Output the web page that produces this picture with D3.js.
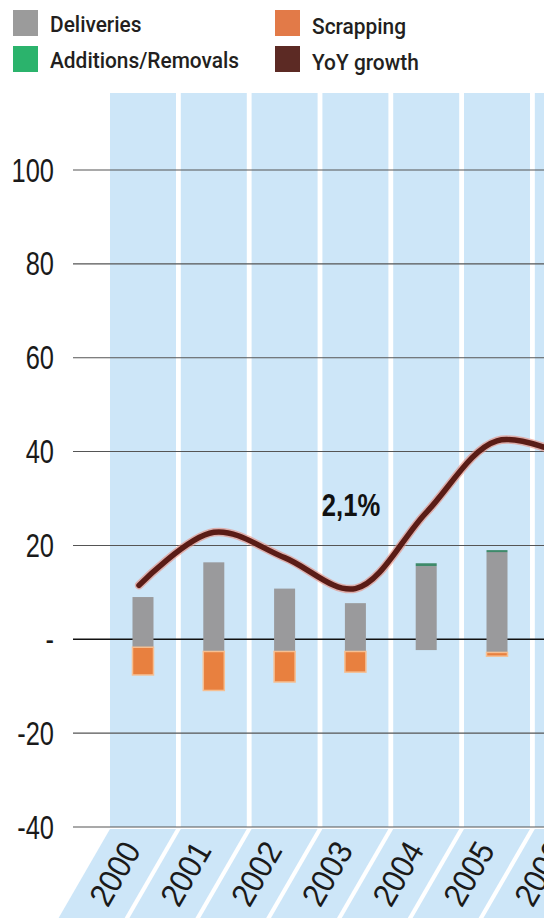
<!DOCTYPE html>
<html><head><meta charset="utf-8">
<script src="https://cdn.jsdelivr.net/npm/d3@7"></script>
<style>html,body{margin:0;padding:0;background:#fff;}svg{display:block;}</style>
</head><body><svg id="c" width="544" height="918"></svg>
<script>
const years = ["2000","2001","2002","2003","2004","2005","2006"];
const deliveries = [9, 16.4, 10.8, 7.7, 15.6, 18.6, null];
const additions = [0, 0, 0, 0, 0.6, 0.4, null];
const deliveriesBelow = [-1.7, -2.6, -2.6, -2.6, -2.3, -2.8, null];
const scrapping = [-5.9, -8.3, -6.5, -4.4, 0, -0.8, null];
const yoyGrowth = [11.5, 22.8, 17.4, 10.8, 27, 42.3, 39];
const yTicks = [100, 80, 60, 40, 20, 0, -20, -40];
const yTickLabels = ["100", "80", "60", "40", "20", "-", "-20", "-40"];
const legendItems = [
  {name: "Deliveries", color: "#9b9b9b"},
  {name: "Additions/Removals", color: "#2bb36c"},
  {name: "Scrapping", color: "#e27a48"},
  {name: "YoY growth", color: "#5c2a24"}
];
const annotation = "2,1%";

const svg = d3.select("#c");
const x = d3.scaleBand().domain(years).range([110, 600.8]).paddingInner(0.068).paddingOuter(0);
const y = d3.scaleLinear().domain([-40, 100]).range([827, 170]);
const bandBlue = "#cde6f8";
const font = "Liberation Sans, Arial, sans-serif";

// vertical bands
svg.append("g").selectAll("rect").data(years).join("rect")
  .attr("x", d => x(d)).attr("y", 93)
  .attr("width", x.bandwidth()).attr("height", y(-40) - 93)
  .attr("fill", bandBlue);

// slanted label bands
const slantTop = y(-40) + 2, slantBot = 920;
const shift = (slantBot - slantTop) / Math.tan(Math.PI / 3);
svg.append("g").selectAll("path").data(years).join("path")
  .attr("d", d => {
    const x0 = x(d), x1 = x(d) + x.bandwidth();
    return `M${x0},${slantTop}L${x1},${slantTop}L${x1 - shift},${slantBot}L${x0 - shift},${slantBot}Z`;
  })
  .attr("fill", bandBlue);

// year labels
const midY = (slantTop + slantBot) / 2;
svg.append("g").selectAll("text").data(years).join("text")
  .attr("transform", d => `translate(${x(d) + x.bandwidth() / 2 - shift / 2 - 2},${midY - 1}) rotate(-60) scale(0.92,1)`)
  .attr("text-anchor", "middle").attr("dy", "0.35em")
  .attr("font-family", font)
  .attr("font-size", 33).attr("fill", "#1a1a1a")
  .text(d => d);

// gridlines
svg.append("g").selectAll("line").data(yTicks).join("line")
  .attr("x1", 73).attr("x2", 544)
  .attr("y1", d => y(d)).attr("y2", d => y(d))
  .attr("stroke", d => d === 0 ? "#111" : "#555")
  .attr("stroke-width", d => d === 0 ? 1.4 : 1.1);

// y labels
svg.append("g").selectAll("text").data(yTicks).join("text")
  .attr("transform", d => `translate(54,${y(d)}) scale(0.77,1)`)
  .attr("dy", "0.35em")
  .attr("text-anchor", "end")
  .attr("font-family", font)
  .attr("font-size", 33).attr("fill", "#1a1a1a")
  .text((d, i) => yTickLabels[i]);

// bars
const bw = 21;
const idx = d3.range(years.length).filter(i => deliveries[i] !== null);
const bars = svg.append("g");
bars.selectAll("rect.del").data(idx).join("rect").attr("class", "del")
  .attr("x", i => x(years[i]) + x.bandwidth() / 2 - bw / 2)
  .attr("y", i => y(deliveries[i]))
  .attr("width", bw)
  .attr("height", i => y(deliveriesBelow[i]) - y(deliveries[i]))
  .attr("fill", "#9a9a9c");
bars.selectAll("rect.scr").data(idx.filter(i => scrapping[i] < 0)).join("rect").attr("class", "scr")
  .attr("x", i => x(years[i]) + x.bandwidth() / 2 - bw / 2)
  .attr("y", i => y(deliveriesBelow[i]))
  .attr("width", bw)
  .attr("height", i => y(deliveriesBelow[i] + scrapping[i]) - y(deliveriesBelow[i]))
  .attr("fill", "#e8803f").attr("stroke", "#f6bf92").attr("stroke-width", 1.5);
bars.selectAll("rect.add").data(idx.filter(i => additions[i] > 0)).join("rect").attr("class", "add")
  .attr("x", i => x(years[i]) + x.bandwidth() / 2 - bw / 2)
  .attr("y", i => y(deliveries[i] + additions[i]))
  .attr("width", bw)
  .attr("height", i => Math.max(2, y(deliveries[i]) - y(deliveries[i] + additions[i])))
  .attr("fill", "#3e8a6a");

// YoY growth line
const line = d3.line()
  .x((d, i) => x(years[i]) + x.bandwidth() / 2 - (i === 0 ? 4 : 0))
  .y(d => y(d))
  .curve(d3.curveCatmullRom.alpha(0.5));
svg.append("path").datum(yoyGrowth).attr("d", line)
  .attr("fill", "none").attr("stroke", "#e88a7c").attr("stroke-width", 8.5).attr("stroke-opacity", 0.6)
  .attr("stroke-linecap", "round");
svg.append("path").datum(yoyGrowth).attr("d", line)
  .attr("fill", "none").attr("stroke", "#5a1c16").attr("stroke-width", 5.5)
  .attr("stroke-linecap", "round");

// annotation
svg.append("text").attr("transform", "translate(351,516) scale(0.8,1)")
  .attr("text-anchor", "middle")
  .attr("font-family", font)
  .attr("font-weight", "bold").attr("font-size", 32).attr("fill", "#111")
  .text(annotation);

// legend
const lg = svg.append("g");
const legPos = [[13, 10], [13, 46], [275, 10], [275, 46]];
lg.selectAll("rect").data(legendItems).join("rect")
  .attr("x", (d, i) => legPos[i][0]).attr("y", (d, i) => legPos[i][1])
  .attr("width", 25).attr("height", 26).attr("fill", d => d.color);
lg.selectAll("text").data(legendItems).join("text")
  .attr("transform", (d, i) => `translate(${legPos[i][0] + 37},${legPos[i][1] + (i >= 2 ? 24 : 22)}) scale(0.95,1)`)
  .attr("font-family", "Roboto, sans-serif").attr("font-weight", 500)
  .attr("font-size", 22).attr("fill", "#231f20")
  .text(d => d.name);
</script></body></html>
